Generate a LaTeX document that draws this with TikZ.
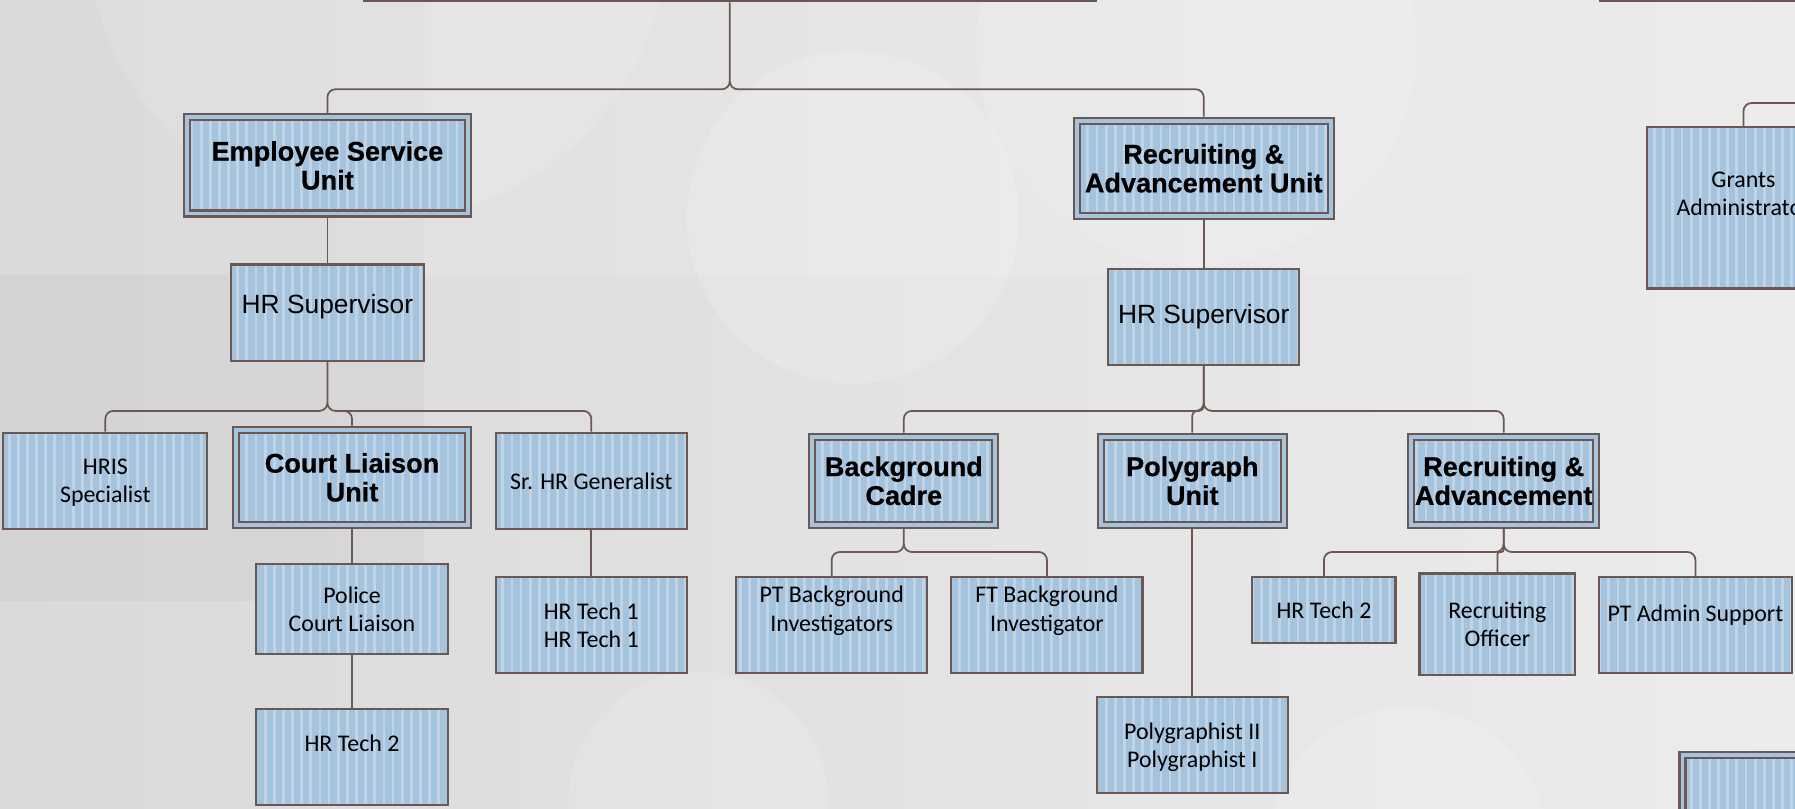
\documentclass[tikz,border=0pt]{standalone}
\usepackage{fontspec}
\setmainfont{Carlito}
\newfontfamily\arialfont{Liberation Sans}[BoldFeatures={FakeBold=0.5}]
\usetikzlibrary{patterns.meta}
\definecolor{boxblue}{RGB}{165,195,221}
\definecolor{stripeblue}{RGB}{191,212,231}
\definecolor{linebrown}{RGB}{108,88,82}
\definecolor{bgleft}{RGB}{217,217,217}
\definecolor{bgright}{RGB}{236,236,236}
\newcommand{\px}{0.011448cm}
\tikzset{
  wh/.style 2 args={minimum width=#1*\px, minimum height=#2*\px},
  lifted/.style={text depth=#1}
}

\begin{document}
\begin{tikzpicture}[x=\px,y=-\px]
\tikzstyle{jobbox}=[draw=linebrown, line width=0.6pt, preaction={fill=boxblue},
  preaction={pattern={Lines[angle=90,distance=2.6pt,line width=0.8pt]}, pattern color=stripeblue},
  align=center, inner sep=1pt, font=\fontsize{6.8}{8.1}\selectfont]
\tikzstyle{unitbox}=[jobbox, double=boxblue, double distance=1.1pt, outer sep=1.2pt,
  font=\arialfont\bfseries\fontsize{7.7}{8.2}\selectfont]
\tikzstyle{supbox}=[jobbox, font=\arialfont\fontsize{7.5}{8.8}\selectfont]
\tikzstyle{link}=[draw=linebrown, line width=0.5pt, rounded corners=7*\px]

\useasboundingbox (0,0) rectangle (1568,706);
\shade[left color=bgleft, right color=bgright] (0,0) rectangle (1568,706);
\fill[black, opacity=0.025] (0,240) rectangle (370,525);
\fill[white, opacity=0.12] (370,0) rectangle (1280,240);
\fill[white, opacity=0.17] (745,190) circle[radius=1.66cm];
\fill[white, opacity=0.12] (330,-60) circle[radius=2.9cm];
\fill[white, opacity=0.12] (1045,40) circle[radius=2.2cm];
\fill[white, opacity=0.15] (610,700) circle[radius=1.3cm];
\fill[white, opacity=0.15] (1230,740) circle[radius=1.4cm];

\node[jobbox, wh={639}{90}, anchor=south] (chief) at (637.5,2) {};
\node[jobbox, wh={320}{90}, anchor=south west] (deputy) at (1397,2) {};
\node[unitbox, wh={245}{84}] (esu) at (286,144.5) {Employee Service\\Unit};
\node[unitbox, wh={222}{83}] (rau) at (1051.5,147) {Recruiting \&\\Advancement Unit};
\node[supbox, wh={168}{84}, lifted=4.8pt] (supl) at (286,273) {HR Supervisor};
\node[supbox, wh={167}{84}] (supr) at (1051.5,277) {HR Supervisor};
\node[jobbox, wh={178}{84}, lifted=0pt] (hris) at (92,420) {HRIS\\Specialist};
\node[unitbox, wh={202}{83}] (court) at (307.5,417) {Court Liaison\\Unit};
\node[jobbox, wh={167}{84}] (srgen) at (516.5,420) {Sr. HR Generalist};
\node[jobbox, wh={167}{78}] (police) at (307.5,532) {Police\\Court Liaison};
\node[jobbox, wh={167}{84}, lifted=7.8pt] (techtwoL) at (307.5,661) {HR Tech 2};
\node[jobbox, wh={167}{84}] (techone) at (516.5,546) {HR Tech 1\\HR Tech 1};
\node[unitbox, wh={160}{77}] (cadre) at (789.5,420) {Background\\Cadre};
\node[unitbox, wh={160}{77}] (poly) at (1041.5,420) {Polygraph\\Unit};
\node[unitbox, wh={160}{77}] (recadv) at (1313.5,420) {Recruiting \&\\Advancement};
\node[jobbox, wh={167}{84}, lifted=9.2pt] (ptbg) at (726.5,546) {PT Background\\Investigators};
\node[jobbox, wh={167}{84}, lifted=9.2pt] (ftbg) at (914.5,546) {FT Background\\Investigator};
\node[jobbox, wh={167}{84}, lifted=0pt] (polyist) at (1041.5,651) {Polygraphist II\\Polygraphist I};
\node[jobbox, wh={125}{58}] (techtwoR) at (1156.5,533) {HR Tech 2};
\node[jobbox, wh={136}{89}] (recoff) at (1308,545.5) {Recruiting\\Officer};
\node[jobbox, wh={168}{84}, lifted=6.6pt] (ptadmin) at (1481,546) {PT Admin Support};
\node[jobbox, wh={168}{141}, lifted=8.1pt] (grants) at (1523,181.5) {Grants\\Administrator};
\node[unitbox, wh={200}{90}, anchor=north west] (lowunit) at (1466,656) {};
\coordinate (grantsfeed) at (1620,90);

\path[link]
  (esu) edge (supl)
  (court) edge (police)
  (police) edge (techtwoL)
  (srgen) edge (techone)
  (rau) edge (supr)
  (poly) edge (polyist)
;
\draw[link] (chief.south) -- ++(0,76) -| (esu.north)
  (chief.south) -- ++(0,76) -| (rau.north);
\draw[link] (supl.south) -- ++(0,43) -| (hris.north)
  (supl.south) -- ++(0,43) -| (court.north)
  (supl.south) -- ++(0,43) -| (srgen.north);
\draw[link] (supr.south) -- ++(0,39) -| (cadre.north)
  (supr.south) -- ++(0,39) -| (recadv.north);
\draw[link, rounded corners=4*\px] (supr.south) -- ++(0,39) -| (poly.north);
\draw[link] (cadre.south) -- ++(0,20) -| (ptbg.north)
  (cadre.south) -- ++(0,20) -| (ftbg.north);
\draw[link] (recadv.south) -- ++(0,20) -| (techtwoR.north)
  (recadv.south) -- ++(0,20) -| (ptadmin.north);
\draw[link, rounded corners=2*\px] (recadv.south) -- ++(0,20) -| (recoff.north);
\draw[link] (grants.north) |- (grantsfeed);
\end{tikzpicture}
\end{document}
